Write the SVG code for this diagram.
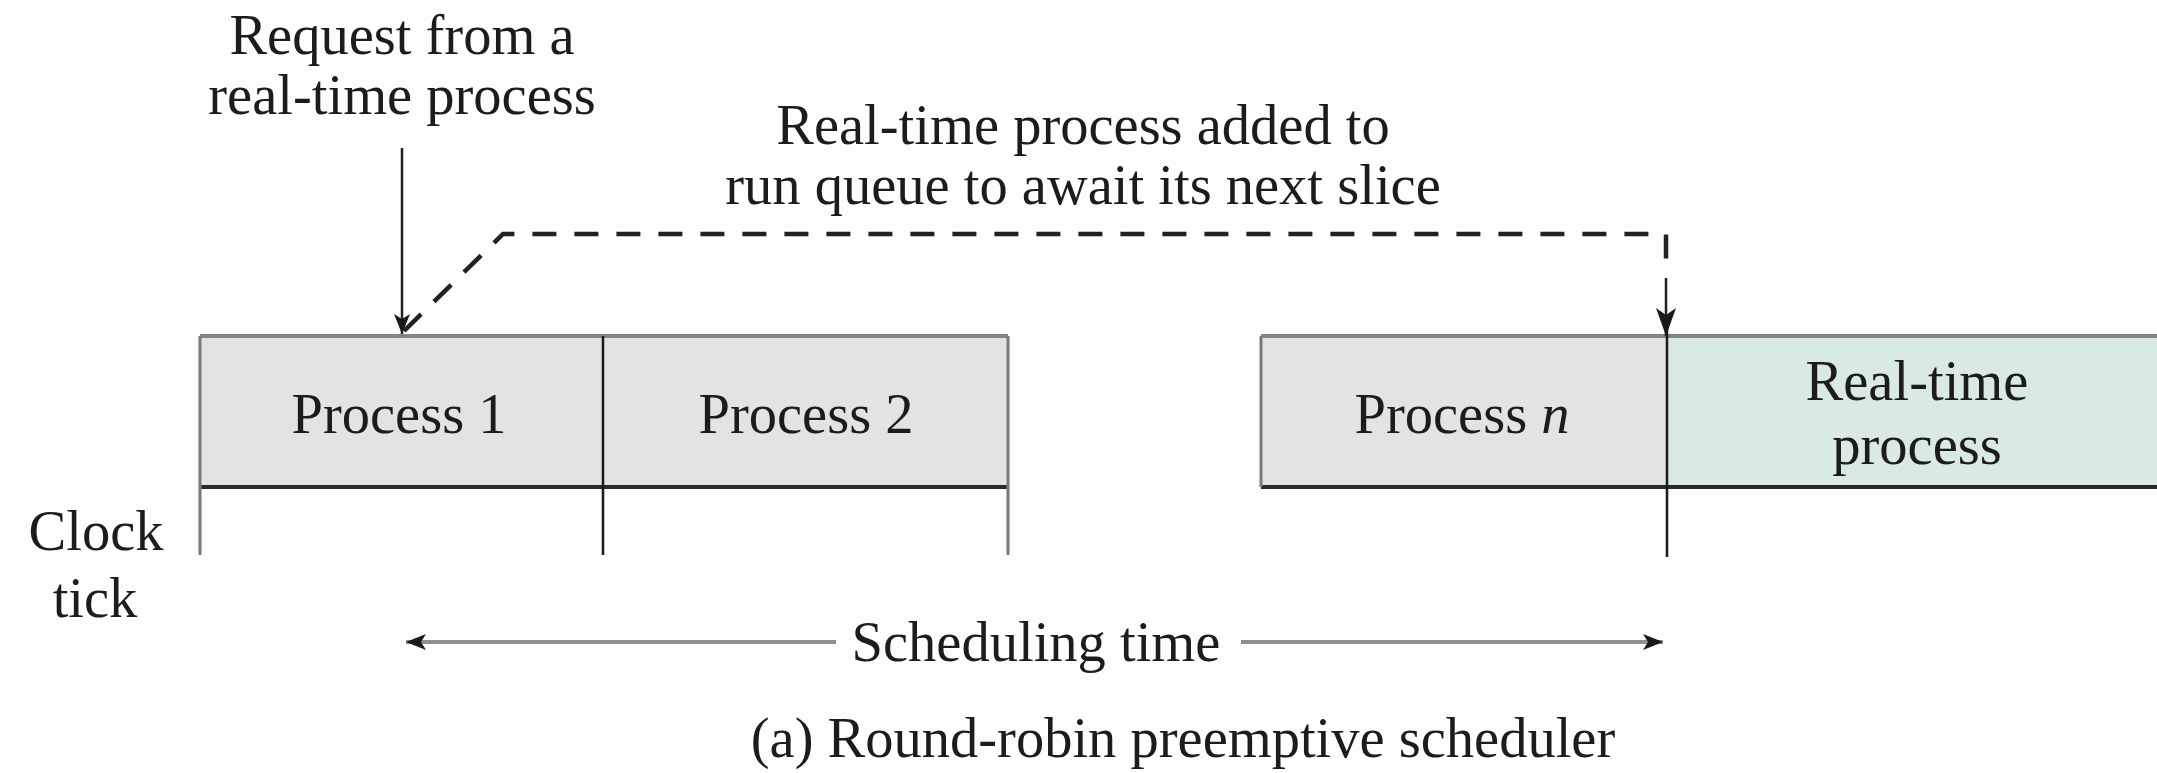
<svg xmlns="http://www.w3.org/2000/svg" width="2157" height="773" viewBox="0 0 2157 773">
  <style>
    .lbl { font-family: "Liberation Serif", "Times New Roman", serif; font-size: 56.5px; fill: #1c1c1c; text-anchor: middle; }
    .slot { stroke: none; }
    .grey { fill: #e3e3e3; }
    .rt { fill: #d9e9e5; }
    .edge-top { stroke: #858585; stroke-width: 4; fill: none; }
    .edge-bot { stroke: #2a2a2a; stroke-width: 4; fill: none; }
    .edge-side { stroke: #7a7a7a; stroke-width: 3; fill: none; }
    .tick { stroke: #1a1a1a; stroke-width: 2.5; fill: none; }
    .dash { stroke: #222; stroke-width: 4.5; fill: none; stroke-dasharray: 24 18; }
    .solid { stroke: #222; stroke-width: 2.5; fill: none; }
    .span { stroke: #8f8f8f; stroke-width: 4; fill: none; }
  </style>
  <defs>
    <marker id="head" markerUnits="userSpaceOnUse" markerWidth="24" markerHeight="20" refX="20" refY="8" orient="auto">
      <path d="M0,0 L20,8 L0,16 L5,8 z" fill="#1a1a1a"/>
    </marker>
    <marker id="headBig" markerUnits="userSpaceOnUse" markerWidth="32" markerHeight="24" refX="28" refY="10" orient="auto">
      <path d="M0,0 L28,10 L0,20 L7,10 z" fill="#1a1a1a"/>
    </marker>
    <marker id="headStart" markerUnits="userSpaceOnUse" markerWidth="24" markerHeight="20" refX="0" refY="8" orient="auto">
      <path d="M20,0 L0,8 L20,16 L15,8 z" fill="#1a1a1a"/>
    </marker>
  </defs>

  <rect width="2157" height="773" fill="#fdfdfd"/>

  <!-- time slots -->
  <g id="process1">
    <rect class="slot grey" x="200" y="336" width="403" height="151"/>
    <text class="lbl" x="399" y="433">Process 1</text>
  </g>
  <g id="process2">
    <rect class="slot grey" x="603" y="336" width="405" height="151"/>
    <text class="lbl" x="806" y="433">Process 2</text>
  </g>
  <g id="processN">
    <rect class="slot grey" x="1261" y="336" width="406" height="151"/>
    <text class="lbl" x="1462" y="433">Process <tspan font-style="italic">n</tspan></text>
  </g>
  <g id="realtime">
    <rect class="slot rt" x="1667" y="336" width="500" height="151"/>
    <text class="lbl" x="1917" y="400">Real-time</text>
    <text class="lbl" x="1917" y="464">process</text>
  </g>

  <!-- slot outlines and clock ticks -->
  <g id="outlines">
    <path class="edge-top" d="M200,336 H1008 M1261,336 H2157"/>
    <path class="edge-bot" d="M200,487 H1008 M1261,487 H2157"/>
    <path class="edge-side" d="M200,336 V555 M1008,336 V555 M1261,336 V487"/>
    <path class="tick" d="M603,336 V555 M1667,320 V557"/>
  </g>

  <g id="clock-label">
    <text class="lbl" x="96" y="550">Clock</text>
    <text class="lbl" x="95" y="617">tick</text>
  </g>

  <!-- annotations -->
  <g id="request-label">
    <text class="lbl" x="402" y="54">Request from a</text>
    <text class="lbl" x="402" y="114">real-time process</text>
  </g>
  <g id="queue-label">
    <text class="lbl" x="1083" y="144">Real-time process added to</text>
    <text class="lbl" x="1083" y="204">run queue to await its next slice</text>
  </g>

  <g id="connectors">
    <line class="solid" x1="402" y1="148" x2="402" y2="334" marker-end="url(#head)"/>
    <path class="dash" d="M404,331 L503,234 H1666 V266"/>
    <line class="solid" x1="1666" y1="278" x2="1666" y2="336" stroke-width="3" marker-end="url(#headBig)"/>
    <line class="span" x1="406" y1="642" x2="836" y2="642" marker-start="url(#headStart)"/>
    <line class="span" x1="1241" y1="642" x2="1663" y2="642" marker-end="url(#head)"/>
  </g>

  <g id="span-label">
    <text class="lbl" x="1036" y="661">Scheduling time</text>
  </g>
  <text class="lbl" x="1183" y="757">(a) Round-robin preemptive scheduler</text>
</svg>
